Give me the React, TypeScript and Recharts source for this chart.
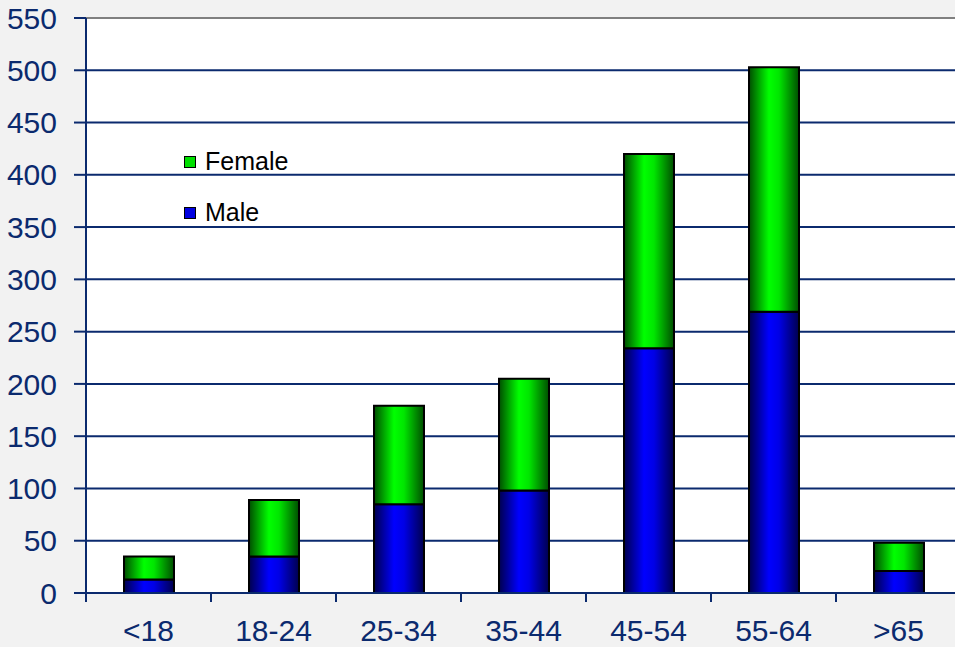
import React from 'react';
import { BarChart, Bar, XAxis, YAxis, CartesianGrid, Legend, ReferenceLine } from 'recharts';

const categories = ['<18', '18-24', '25-34', '35-44', '45-54', '55-64', '>65'];
const male = [13, 35, 85, 98, 234, 269, 21];
const female = [22, 54, 94, 107, 186, 234, 27];
const yTicks = [0, 50, 100, 150, 200, 250, 300, 350, 400, 450, 500, 550];

const data = categories.map((c, i) => ({ name: c, Male: male[i], Female: female[i] }));

const NAVY = '#0b2a6e';
const FONT = '"Liberation Sans", Arial, sans-serif';
const X_TICK_MARGIN = 27;

const CategoryTick = (props: any) => {
  const { x, y, payload, width, visibleTicksCount, index } = props;
  const band = width / (visibleTicksCount || categories.length);
  const axisY = y - X_TICK_MARGIN;
  const half = band / 2;
  return (
    <g>
      <line x1={x - half} x2={x - half} y1={axisY} y2={axisY + 9} stroke={NAVY} strokeWidth={2} />
      {index === (visibleTicksCount || categories.length) - 1 && (
        <line x1={x + half} x2={x + half} y1={axisY} y2={axisY + 9} stroke={NAVY} strokeWidth={2} />
      )}
      <text x={x} y={y} dy="0.71em" textAnchor="middle" fill={NAVY} fontSize={30} fontFamily={FONT}>
        {payload.value}
      </text>
    </g>
  );
};

const LegendContent = (props: any) => {
  const items = [...(props.payload || [])].sort((a: any, b: any) =>
    a.value === 'Female' ? -1 : b.value === 'Female' ? 1 : 0
  );
  return (
    <div style={{ fontFamily: FONT }}>
      {items.map((it: any) => (
        <div key={it.value} style={{ display: 'flex', alignItems: 'center', height: 51 }}>
          <span
            style={{
              display: 'inline-block',
              width: 10,
              height: 10,
              background: it.value === 'Female' ? '#00e000' : '#0000e0',
              border: '1.5px solid #000',
              marginRight: 9,
            }}
          />
          <span style={{ fontSize: 25, color: '#000', lineHeight: '25px' }}>{it.value}</span>
        </div>
      ))}
    </div>
  );
};

export default function App() {
  return (
    <div
      style={{
        position: 'absolute',
        left: 0,
        top: 0,
        width: 955,
        height: 647,
        overflow: 'hidden',
        background: '#f2f2f2',
      }}
    >
      <BarChart
        width={961}
        height={647}
        data={data}
        margin={{ top: 18, right: 0, bottom: 0, left: 0 }}
        barSize={50}
      >
        <defs>
          <linearGradient id="gGreen" x1="0" y1="0" x2="1" y2="0">
            <stop offset="0%" stopColor="#004d00" />
            <stop offset="40%" stopColor="#00ff00" />
            <stop offset="60%" stopColor="#00e600" />
            <stop offset="100%" stopColor="#004d00" />
          </linearGradient>
          <linearGradient id="gBlue" x1="0" y1="0" x2="1" y2="0">
            <stop offset="0%" stopColor="#00004d" />
            <stop offset="40%" stopColor="#0000ff" />
            <stop offset="60%" stopColor="#0000e6" />
            <stop offset="100%" stopColor="#00004d" />
          </linearGradient>
        </defs>
        <CartesianGrid vertical={false} stroke={NAVY} strokeWidth={2} fill="#ffffff" strokeOpacity={1} />
        <XAxis
          dataKey="name"
          height={54}
          axisLine={{ stroke: NAVY, strokeWidth: 2 }}
          tickLine={false}
          tickSize={0}
          tickMargin={X_TICK_MARGIN}
          tick={<CategoryTick />}
          interval={0}
        />
        <YAxis
          width={86}
          domain={[0, 550]}
          ticks={yTicks}
          interval={0}
          axisLine={{ stroke: NAVY, strokeWidth: 2 }}
          tickLine={{ stroke: NAVY, strokeWidth: 2 }}
          tickSize={12}
          tickMargin={17}
          fontSize={30}
          fontFamily={FONT}
          tick={{ fill: NAVY, fontSize: 30, fontFamily: FONT }}
        />
        <ReferenceLine y={550} stroke="#808080" strokeWidth={2} />
        <Legend
          layout="horizontal"
          verticalAlign="middle"
          align="center"
          content={<LegendContent />}
          wrapperStyle={{ position: 'absolute', left: 184, top: 136, width: 150, height: 100 }}
        />
        <Bar dataKey="Male" stackId="a" fill="url(#gBlue)" stroke="#000" strokeWidth={2} isAnimationActive={false} />
        <Bar dataKey="Female" stackId="a" fill="url(#gGreen)" stroke="#000" strokeWidth={2} isAnimationActive={false} />
      </BarChart>
    </div>
  );
}
